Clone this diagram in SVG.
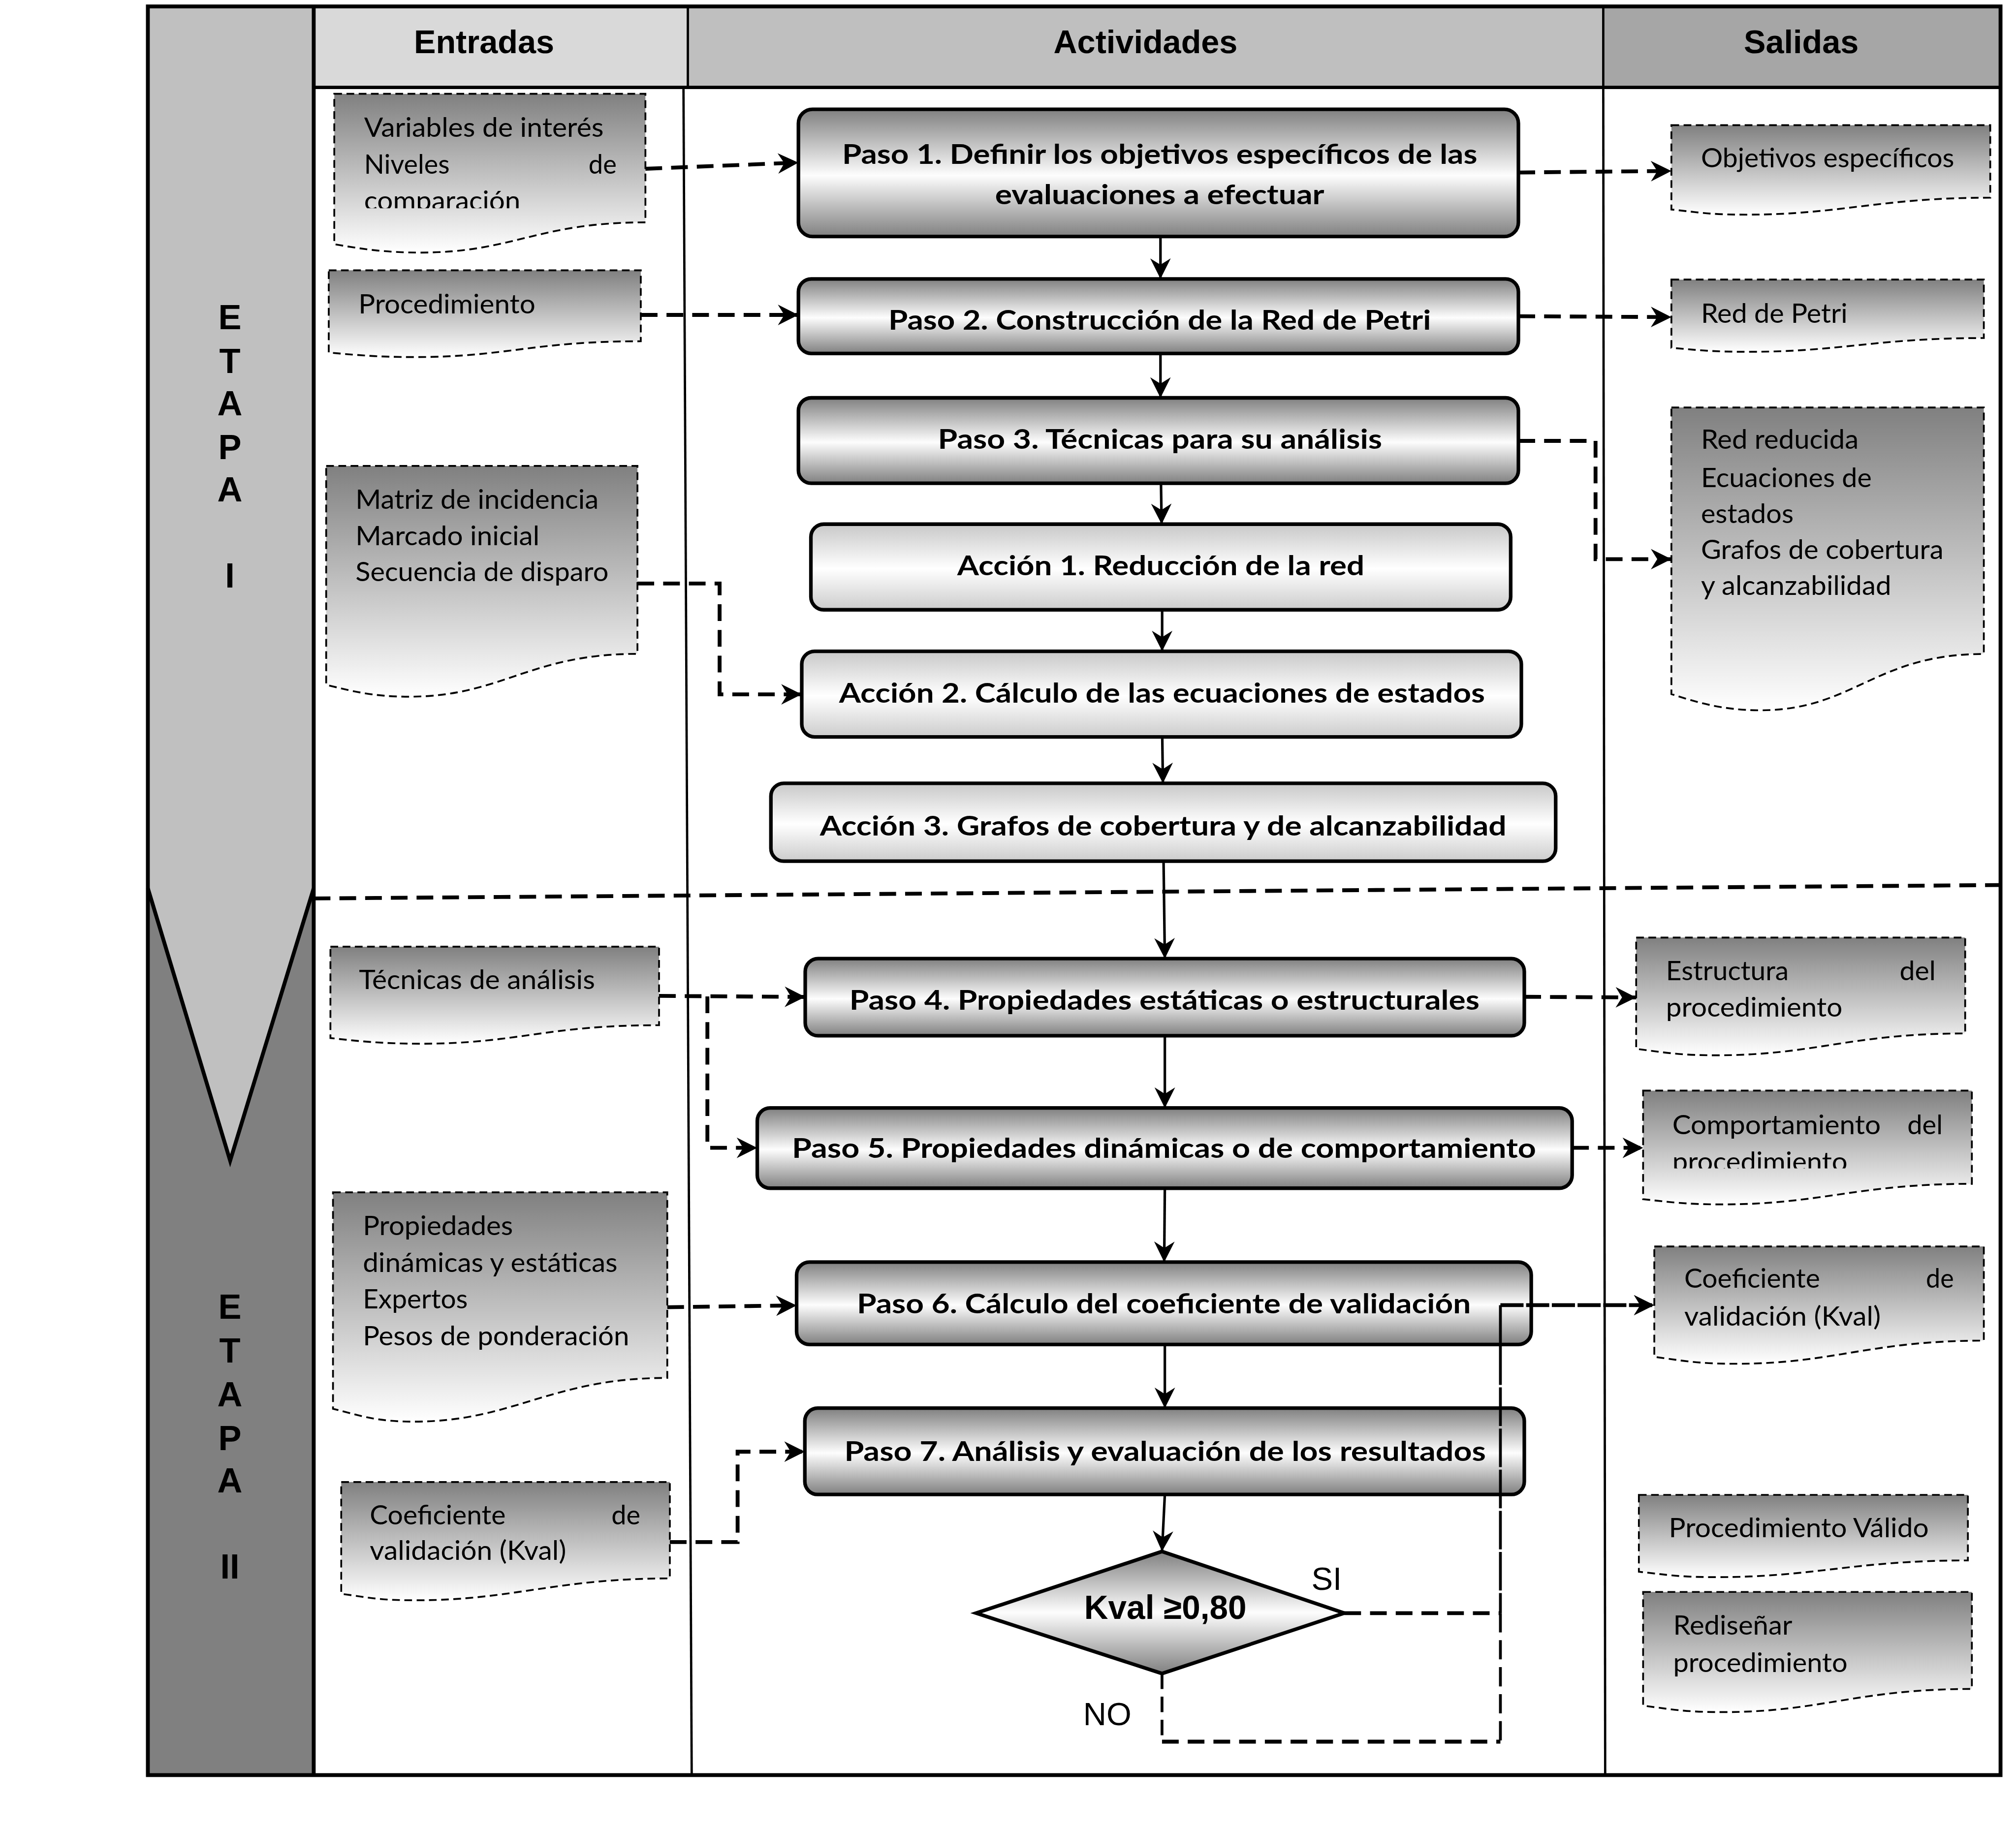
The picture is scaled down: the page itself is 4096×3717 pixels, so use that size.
<svg xmlns="http://www.w3.org/2000/svg" width="4096" height="3717" viewBox="0 0 4096 3717">
<style>
.fr{fill:none;stroke:#000;stroke-width:3}
.dv{fill:none;stroke:#000;stroke-width:1.8}
.bx{stroke:#000;stroke-width:2.8}
.paso{fill:url(#gPaso)}
.acc{fill:url(#gAcc)}
.doc{fill:url(#gDoc);stroke:#000;stroke-width:1.4;stroke-dasharray:6 3.5}
.cn{fill:none;stroke:#000;stroke-width:3;stroke-dasharray:13 7}
.cs{fill:none;stroke:#000;stroke-width:2.2}
.fl{fill:none;stroke:#000;stroke-width:2}
.tb{font-family:Lato,'Liberation Sans',sans-serif;font-weight:700;font-size:21px;fill:#000}
.td{font-family:Lato,'Liberation Sans',sans-serif;font-size:21px;fill:#000}
.th{font-family:'Liberation Sans',Arial,sans-serif;font-weight:700;font-size:25.5px;text-anchor:middle;fill:#000}
.te{font-family:'Liberation Sans',Arial,sans-serif;font-weight:700;font-size:27px;text-anchor:middle;fill:#000}
.tl{font-family:'Liberation Sans',Arial,sans-serif;font-size:25px;fill:#000}
</style>
<defs>
<linearGradient id="gDoc" x1="0" y1="0" x2="0" y2="1"><stop offset="0" stop-color="#808080"/><stop offset="1" stop-color="#ffffff"/></linearGradient>
<linearGradient id="gPaso" x1="0" y1="0" x2="0" y2="1"><stop offset="0" stop-color="#808080"/><stop offset="0.52" stop-color="#fdfdfd"/><stop offset="1" stop-color="#808080"/></linearGradient>
<linearGradient id="gAcc" x1="0" y1="0" x2="0" y2="1"><stop offset="0" stop-color="#c8c8c8"/><stop offset="0.52" stop-color="#ffffff"/><stop offset="1" stop-color="#cccccc"/></linearGradient>
<linearGradient id="gDia" x1="0" y1="0" x2="0" y2="1"><stop offset="0" stop-color="#808080"/><stop offset="0.5" stop-color="#fdfdfd"/><stop offset="1" stop-color="#808080"/></linearGradient>
<marker id="ah" viewBox="0 0 16 16" refX="16" refY="8" markerWidth="16" markerHeight="16" markerUnits="userSpaceOnUse" orient="auto"><path d="M0,0 L16,8 L0,16 L5,8 Z" fill="#000"/></marker>
<clipPath id="clip1"><rect x="250" y="70" width="260" height="92"/></clipPath>
<clipPath id="clip5"><rect x="1270" y="845" width="270" height="64"/></clipPath>
</defs>
<rect x="0" y="0" width="4096" height="3717" fill="#fff"/>
<g transform="scale(2.6122)">
<g id="frame">
<rect x="115" y="5" width="129" height="686" fill="#c0c0c0"/>
<rect x="115" y="691" width="129" height="690" fill="#808080"/>
<polygon points="115,691 244,691 179,903" fill="#c0c0c0"/>
<polyline class="fr" points="115,691 179,903 244,691"/>
<rect x="244" y="5" width="291" height="63" fill="#d9d9d9"/>
<rect x="535" y="5" width="712" height="63" fill="#bfbfbf"/>
<rect x="1247" y="5" width="309" height="63" fill="#a6a6a6"/>
<line class="dv" x1="535" y1="5" x2="535" y2="68"/>
<line class="dv" x1="1247" y1="5" x2="1247" y2="68"/>
<line class="dv" x1="531.6" y1="68" x2="538" y2="1381"/>
<line class="dv" x1="1247" y1="68" x2="1248.5" y2="1381"/>
<line x1="244" y1="68" x2="1556" y2="68" stroke="#000" stroke-width="2.5"/>
<line x1="244" y1="5" x2="244" y2="1381" stroke="#000" stroke-width="3"/>
<rect class="fr" x="115" y="5" width="1441" height="1376"/>
<path class="cn" d="M244,699 L1562,688.5"/>
<text class="th" x="376.5" y="41.5">Entradas</text>
<text class="th" x="891" y="41.5">Actividades</text>
<text class="th" x="1401" y="41.5">Salidas</text>
<g class="te">
<text x="178.8" y="256">E</text><text x="178.8" y="290">T</text><text x="178.8" y="323">A</text><text x="178.8" y="357">P</text><text x="178.8" y="390">A</text><text x="178.8" y="457">I</text>
<text x="178.8" y="1026">E</text><text x="178.8" y="1060">T</text><text x="178.8" y="1094">A</text><text x="178.8" y="1128">P</text><text x="178.8" y="1161">A</text><text x="178.8" y="1228">II</text>
</g>
</g>
<g id="in1"><path class="doc" d="M260,73 H502 V173 C417.3,173 399.6,196.5 327,196.5 C298,196.5 279.4,193.3 260,190 Z"/>
<g clip-path="url(#clip1)"><text class="td" x="283.2" y="106.5" textLength="186.3" lengthAdjust="spacingAndGlyphs">Variables de interés</text><text class="td" x="283.2" y="135" textLength="66.5" lengthAdjust="spacingAndGlyphs">Niveles</text><text class="td" x="457.8" y="135" textLength="21.8" lengthAdjust="spacingAndGlyphs">de</text><text class="td" x="283.2" y="163.5" textLength="121.6" lengthAdjust="spacingAndGlyphs">comparación</text></g></g>
<g id="in2"><path class="doc" d="M255.7,210.3 H498.4 V265.5 C413.5,265.5 394.8,277.8 322,277.8 C292.9,277.8 275.1,276 255.7,274.3 Z"/>
<text class="td" x="278.8" y="243.9" textLength="137.6" lengthAdjust="spacingAndGlyphs">Procedimiento</text></g>
<g id="in3"><path class="doc" d="M253.7,362.5 H495.8 V508.7 C411.1,508.7 390.6,542 318,542 C289,542 273.1,537.4 253.7,532.8 Z"/>
<text class="td" x="276.5" y="396" textLength="189.1" lengthAdjust="spacingAndGlyphs">Matriz de incidencia</text><text class="td" x="276.5" y="424" textLength="143.1" lengthAdjust="spacingAndGlyphs">Marcado inicial</text><text class="td" x="276.5" y="452" textLength="196.8" lengthAdjust="spacingAndGlyphs">Secuencia de disparo</text></g>
<g id="in4"><path class="doc" d="M257,736.5 H512.6 V797.6 C423.1,797.6 403.7,812 327,812 C296.3,812 277.4,809.8 257,807.6 Z"/>
<text class="td" x="279.2" y="769.5" textLength="183.6" lengthAdjust="spacingAndGlyphs">Técnicas de análisis</text></g>
<g id="in5"><path class="doc" d="M259,927.6 H519 V1072 C428,1072 400,1106 322,1106 C290.8,1106 279.8,1101 259,1096 Z"/>
<text class="td" x="282.2" y="961" textLength="116.8" lengthAdjust="spacingAndGlyphs">Propiedades</text><text class="td" x="282.2" y="989.5" textLength="198.1" lengthAdjust="spacingAndGlyphs">dinámicas y estáticas</text><text class="td" x="282.2" y="1018" textLength="81.6" lengthAdjust="spacingAndGlyphs">Expertos</text><text class="td" x="282.2" y="1046.5" textLength="207.2" lengthAdjust="spacingAndGlyphs">Pesos de ponderación</text></g>
<g id="in6"><path class="doc" d="M265.4,1153 H521 V1228 C431.5,1228 399.7,1245 323,1245 C292.3,1245 285.8,1242.5 265.4,1240 Z"/>
<text class="td" x="287.6" y="1185.8" textLength="105.7" lengthAdjust="spacingAndGlyphs">Coeficiente</text><text class="td" x="475.6" y="1185.8" textLength="22.5" lengthAdjust="spacingAndGlyphs">de</text><text class="td" x="287.6" y="1213.7" textLength="152.8" lengthAdjust="spacingAndGlyphs">validación (Kval)</text></g>
<g id="out1"><path class="doc" d="M1300,97.4 H1548 V153.8 C1461.2,153.8 1432.4,167 1358,167 C1328.2,167 1319.8,165 1300,163 Z"/>
<text class="td" x="1323" y="130.3" textLength="197" lengthAdjust="spacingAndGlyphs">Objetivos específicos</text></g>
<g id="out2"><path class="doc" d="M1300,217.5 H1543 V263 C1458,263 1432.9,273.7 1360,273.7 C1330.8,273.7 1319.4,272.2 1300,270.6 Z"/>
<text class="td" x="1323" y="251" textLength="114" lengthAdjust="spacingAndGlyphs">Red de Petri</text></g>
<g id="out3"><path class="doc" d="M1300,317 H1543 V508.8 C1458,508.8 1441.9,552.6 1369,552.6 C1339.8,552.6 1319.4,546.3 1300,540 Z"/>
<text class="td" x="1323" y="349" textLength="122.6" lengthAdjust="spacingAndGlyphs">Red reducida</text><text class="td" x="1323" y="378.8" textLength="132.8" lengthAdjust="spacingAndGlyphs">Ecuaciones de</text><text class="td" x="1323" y="407" textLength="72" lengthAdjust="spacingAndGlyphs">estados</text><text class="td" x="1323" y="435" textLength="188.6" lengthAdjust="spacingAndGlyphs">Grafos de cobertura</text><text class="td" x="1323" y="463" textLength="148" lengthAdjust="spacingAndGlyphs">y alcanzabilidad</text></g>
<g id="out4"><path class="doc" d="M1272.6,729.4 H1528.5 V804 C1438.9,804 1411.8,821 1335,821 C1304.3,821 1293.1,818.5 1272.6,816 Z"/>
<text class="td" x="1295.8" y="762.5" textLength="95.4" lengthAdjust="spacingAndGlyphs">Estructura</text><text class="td" x="1477.5" y="762.5" textLength="28.1" lengthAdjust="spacingAndGlyphs">del</text><text class="td" x="1295.8" y="791" textLength="137.2" lengthAdjust="spacingAndGlyphs">procedimiento</text></g>
<g id="out5"><path class="doc" d="M1278,848.5 H1533.7 V921 C1444.2,921 1416.7,937 1340,937 C1309.3,937 1298.5,935 1278,933 Z"/>
<g clip-path="url(#clip5)"><text class="td" x="1300.7" y="882.5" textLength="162.1" lengthAdjust="spacingAndGlyphs">Comportamiento</text><text class="td" x="1483.5" y="882.5" textLength="27.5" lengthAdjust="spacingAndGlyphs">del</text><text class="td" x="1300.7" y="911" textLength="136.3" lengthAdjust="spacingAndGlyphs">procedimiento</text></g></g>
<g id="out6"><path class="doc" d="M1286.7,969.7 H1543 V1043 C1453.3,1043 1426.9,1061 1350,1061 C1319.2,1061 1307.2,1058.3 1286.7,1055.6 Z"/>
<text class="td" x="1310" y="1002" textLength="105.6" lengthAdjust="spacingAndGlyphs">Coeficiente</text><text class="td" x="1498" y="1002" textLength="21.7" lengthAdjust="spacingAndGlyphs">de</text><text class="td" x="1310" y="1031.5" textLength="152.8" lengthAdjust="spacingAndGlyphs">validación (Kval)</text></g>
<g id="out7"><path class="doc" d="M1274.7,1163 H1530.6 V1214 C1441,1214 1411.8,1227 1335,1227 C1304.3,1227 1295.2,1224.9 1274.7,1222.8 Z"/>
<text class="td" x="1298" y="1196" textLength="202.2" lengthAdjust="spacingAndGlyphs">Procedimiento Válido</text></g>
<g id="out8"><path class="doc" d="M1278,1238.5 H1533.7 V1314 C1444.2,1314 1416.7,1332 1340,1332 C1309.3,1332 1298.5,1329.5 1278,1327 Z"/>
<text class="td" x="1301.4" y="1271.6" textLength="92.6" lengthAdjust="spacingAndGlyphs">Rediseñar</text><text class="td" x="1301.4" y="1301" textLength="135.6" lengthAdjust="spacingAndGlyphs">procedimiento</text></g>
<g id="paso1"><rect class="bx paso" x="621" y="85" width="560" height="99" rx="11"/>
<text class="tb" x="655" y="127.6" textLength="494" lengthAdjust="spacingAndGlyphs">Paso 1. Definir los objetivos específicos de las</text><text class="tb" x="774" y="158.8" textLength="256" lengthAdjust="spacingAndGlyphs">evaluaciones a efectuar</text></g>
<g id="paso2"><rect class="bx paso" x="621" y="217" width="560" height="58" rx="10"/>
<text class="tb" x="691" y="256.5" textLength="422" lengthAdjust="spacingAndGlyphs">Paso 2. Construcción de la Red de Petri</text></g>
<g id="paso3"><rect class="bx paso" x="621" y="309.5" width="560" height="66.5" rx="10"/>
<text class="tb" x="729.5" y="349" textLength="345.5" lengthAdjust="spacingAndGlyphs">Paso 3. Técnicas para su análisis</text></g>
<g id="accion1"><rect class="bx acc" x="630.7" y="407.8" width="544.3" height="66.6" rx="10"/>
<text class="tb" x="744.5" y="447.7" textLength="316.7" lengthAdjust="spacingAndGlyphs">Acción 1. Reducción de la red</text></g>
<g id="accion2"><rect class="bx acc" x="623.6" y="506.7" width="559.7" height="66.6" rx="10"/>
<text class="tb" x="652.6" y="546.6" textLength="502.4" lengthAdjust="spacingAndGlyphs">Acción 2. Cálculo de las ecuaciones de estados</text></g>
<g id="accion3"><rect class="bx acc" x="599.6" y="609.4" width="610.4" height="60.6" rx="10"/>
<text class="tb" x="637.7" y="650" textLength="534" lengthAdjust="spacingAndGlyphs">Acción 3. Grafos de cobertura y de alcanzabilidad</text></g>
<g id="paso4"><rect class="bx paso" x="626.3" y="745.8" width="559.3" height="60" rx="10"/>
<text class="tb" x="660.7" y="785.6" textLength="490" lengthAdjust="spacingAndGlyphs">Paso 4. Propiedades estáticas o estructurales</text></g>
<g id="paso5"><rect class="bx paso" x="589" y="862" width="633.8" height="62.4" rx="10"/>
<text class="tb" x="616" y="900.9" textLength="578.7" lengthAdjust="spacingAndGlyphs">Paso 5. Propiedades dinámicas o de comportamiento</text></g>
<g id="paso6"><rect class="bx paso" x="619.6" y="981.9" width="571.4" height="64.1" rx="10"/>
<text class="tb" x="666.5" y="1021.7" textLength="477.5" lengthAdjust="spacingAndGlyphs">Paso 6. Cálculo del coeficiente de validación</text></g>
<g id="paso7"><rect class="bx paso" x="626" y="1095.5" width="559.6" height="67.2" rx="10"/>
<text class="tb" x="656.7" y="1136.5" textLength="499" lengthAdjust="spacingAndGlyphs">Paso 7. Análisis y evaluación de los resultados</text></g>
<g id="decision"><polygon class="bx" fill="url(#gDia)" points="903.8,1207 1045.6,1255 903.8,1302 759.2,1255"/>
<text x="843.3" y="1259.6" textLength="126.2" lengthAdjust="spacingAndGlyphs" style="font-family:'Liberation Sans',Arial,sans-serif;font-weight:700;font-size:26.5px">Kval ≥0,80</text></g>
<g id="connectors">
<path class="fl" d="M902.6,184 L902.6,217" marker-end="url(#ah)"/>
<path class="fl" d="M902.6,275 L902.6,309.5" marker-end="url(#ah)"/>
<path class="fl" d="M903,376 L903.5,407.8" marker-end="url(#ah)"/>
<path class="fl" d="M903.9,474.4 L903.9,506.7" marker-end="url(#ah)"/>
<path class="fl" d="M904,573.3 L904.5,609.4" marker-end="url(#ah)"/>
<path class="fl" d="M905,670 L906,745.8" marker-end="url(#ah)"/>
<path class="fl" d="M906,805.8 L906,862" marker-end="url(#ah)"/>
<path class="fl" d="M906,924.4 L905.5,981.9" marker-end="url(#ah)"/>
<path class="fl" d="M906,1046 L906,1095.5" marker-end="url(#ah)"/>
<path class="fl" d="M906,1162.7 L903.8,1207" marker-end="url(#ah)"/>
<path class="cn" d="M502,131.3 L621,126.5" marker-end="url(#ah)"/>
<path class="cn" d="M498.4,245 L621,245" marker-end="url(#ah)"/>
<path class="cn" d="M495.8,454 H559.7 V540.2 H623.6" marker-end="url(#ah)"/>
<path class="cn" d="M512.6,774.8 L626.3,775.6" marker-end="url(#ah)"/>
<path class="cn" d="M550.2,775.2 V893 H589" marker-end="url(#ah)"/>
<path class="cn" d="M519,1017 L619.6,1015.6" marker-end="url(#ah)"/>
<path class="cn" d="M521,1199.7 H573.7 V1129.4 H626" marker-end="url(#ah)"/>
<path class="cn" d="M1181,134.2 L1300,133" marker-end="url(#ah)"/>
<path class="cn" d="M1181,246 L1300,246.7" marker-end="url(#ah)"/>
<path class="cn" d="M1181,343 H1241 V435 H1300" marker-end="url(#ah)"/>
<path class="cn" d="M1185.6,775.5 L1272.6,776" marker-end="url(#ah)"/>
<path class="cn" d="M1222.8,893 H1278" marker-end="url(#ah)"/>
<path d="M1167,1015.4 H1286.7" fill="none" stroke="#000" stroke-width="3" stroke-dasharray="18 2" marker-end="url(#ah)"/>
<path class="cs" d="M1167,1015.4 V1255" stroke-dasharray="30 2"/>
<path class="cs" d="M1167,1255 V1355" stroke-dasharray="15 6"/>
<path class="cn" d="M1045.6,1255 H1167"/>
<path class="cs" d="M903.8,1302 V1355" stroke-dasharray="12 6"/>
<path class="cn" d="M903.8,1355 H1167"/>
</g>
<text class="tl" x="1020" y="1237">SI</text>
<text class="tl" x="842.5" y="1342">NO</text>
</g>
</svg>
